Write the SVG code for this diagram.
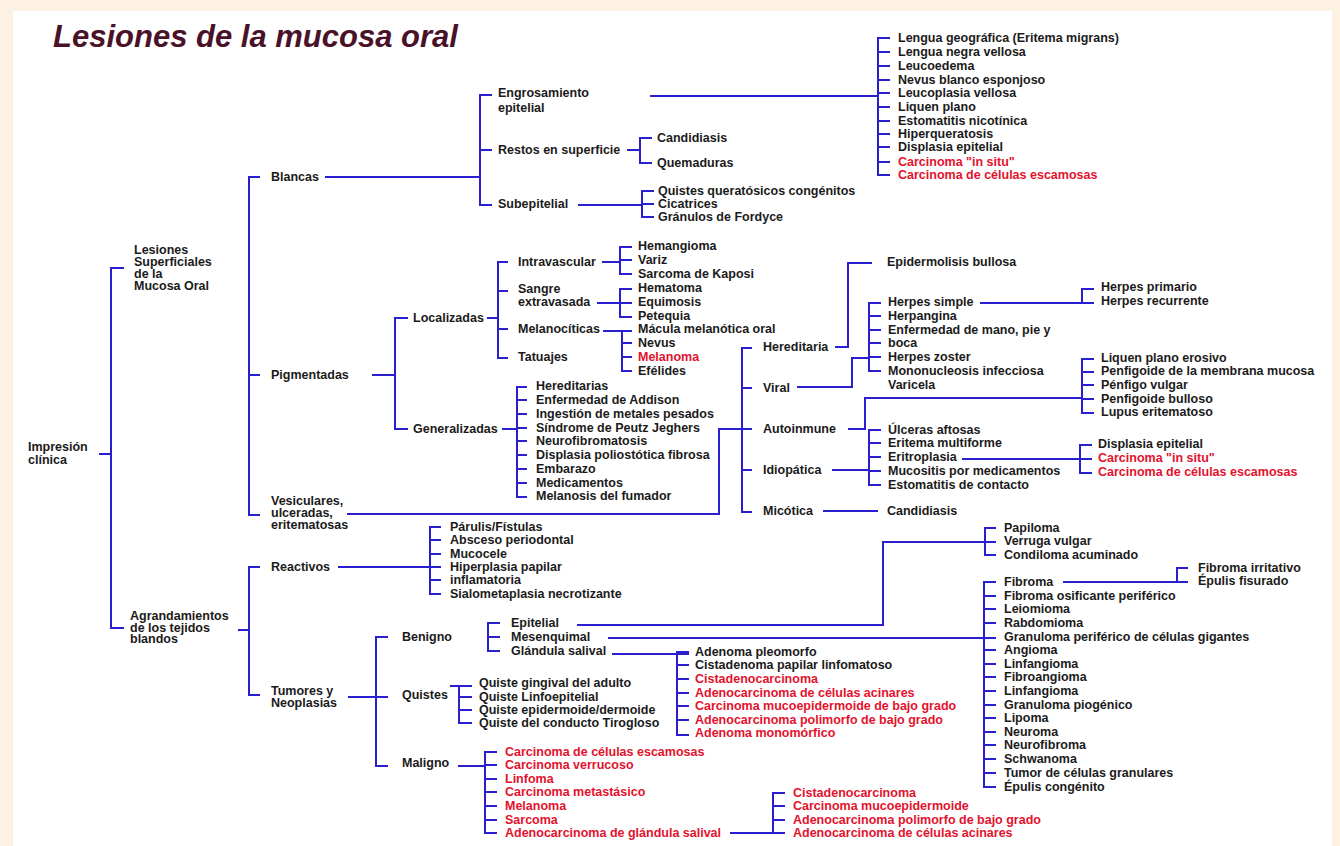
<svg xmlns="http://www.w3.org/2000/svg" width="1340" height="846" viewBox="0 0 1340 846">
<style>
.t{font-family:"Liberation Sans",Arial,sans-serif;font-weight:700;font-size:12.5px;fill:#1b1b1b;dominant-baseline:central}
.r{fill:#e3122d}
.c{fill:none;stroke:#2a1fcf;stroke-width:2}
.title{font-family:"Liberation Sans",Arial,sans-serif;font-weight:700;font-style:italic;font-size:31px;fill:#4a1228}
</style>
<rect x="0" y="0" width="1340" height="846" fill="#fdf1e4"/>
<rect x="13" y="11" width="1319" height="835" fill="#ffffff"/>
<text class="title" x="53" y="47">Lesiones de la mucosa oral</text>

<g id="connectors" class="c">
<path d="M99,454 H111 M124,268 H111 V628 H124"/>
<path d="M260,177 H249 V515 H260 M249,375 H260"/>
<path d="M238,630 H249 M260,567 H249 V695 H260"/>
<path d="M325,177 H480 M492,95 H480 V205 H492 M480,150 H492"/>
<path d="M650,96 H878 M890,38 H878 V175 H890 M878,52 H890 M878,66 H890 M878,80 H890 M878,93 H890 M878,107 H890 M878,121 H890 M878,134 H890 M878,147 H890 M878,162 H890"/>
<path d="M627,150 H640 M652,138 H640 V163 H652"/>
<path d="M578,205 H642 M654,191 H642 V217 H654 M642,204 H654"/>
<path d="M372,375 H395 M408,318 H395 V429 H408"/>
<path d="M487,318 H498 M508,262 H498 V358 H508 M498,291 H508 M498,329 H508"/>
<path d="M602,262 H620 M632,247 H620 V274 H632 M620,260 H632"/>
<path d="M597,303 H632 M632,289 H620 V317 H632"/>
<path d="M603,331 H632 M622,331 V371 H632 M622,343 H632 M622,357 H632"/>
<path d="M502,429 H517 M527,387 H517 V497 H527 M517,400 H527 M517,414 H527 M517,428 H527 M517,441 H527 M517,455 H527 M517,469 H527 M517,483 H527"/>
<path d="M347,514 H719 V429 H742 M752,348 H742 V512 H752 M742,388 H752 M742,470 H752 M742,429 H752"/>
<path d="M835,347 H848 V263 H872"/>
<path d="M797,387 H852 V358 H869 M881,303 H869 V371 H881 M869,316 H881 M869,330 H881 M869,343 H881 M869,357 H881"/>
<path d="M980,303 H1082 M1094,289 H1082 V303 H1094"/>
<path d="M848,429 H865 V398 H1082 M1094,359 H1082 V413 H1094 M1082,372 H1094 M1082,385 H1094 M1082,399 H1094"/>
<path d="M832,470 H869 M881,430 H869 V485 H881 M869,443 H881 M869,457 H881 M869,471 H881"/>
<path d="M962,459 H1092 M1092,445 H1080 V473 H1092"/>
<path d="M823,511 H878"/>
<path d="M338,567 H441 M441,527 H430 V594 H441 M430,540 H441 M430,554 H441 M430,580 H441"/>
<path d="M348,697 H388 M388,637 H376 V766 H388"/>
<path d="M450,686 H472 M459,686 V723 H472 M459,697 H472 M459,710 H472"/>
<path d="M458,766 H485 M497,752 H485 V833 H497 M485,765 H497 M485,779 H497 M485,792 H497 M485,806 H497 M485,820 H497"/>
<path d="M730,833 H785 M785,793 H773 V833 M773,806 H785 M773,820 H785"/>
<path d="M500,623 H488 V651 H500 M488,637 H500"/>
<path d="M577,625 H883 V542 H996 M996,528 H985 V555 H996"/>
<path d="M608,638 H996 M996,582 H984 V787 H996 M984,596 H996 M984,609 H996 M984,623 H996 M984,650 H996 M984,664 H996 M984,677 H996 M984,691 H996 M984,705 H996 M984,718 H996 M984,732 H996 M984,745 H996 M984,759 H996 M984,773 H996"/>
<path d="M1063,582 H1188 M1188,568 H1177 V582"/>
<path d="M612,654 H689 M689,652 H677 V735 H689 M677,665 H689 M677,679 H689 M677,693 H689 M677,706 H689 M677,720 H689"/>
</g>

<g id="n-impresion"><text class="t" x="28" y="447">Impresión<tspan x="28" dy="13">clínica</tspan></text></g>
<g id="n-lesiones"><text class="t" x="134" y="250">Lesiones<tspan x="134" dy="12">Superficiales</tspan><tspan x="134" dy="12">de la</tspan><tspan x="134" dy="12">Mucosa Oral</tspan></text></g>
<g id="n-agrandamientos"><text class="t" x="130" y="616">Agrandamientos<tspan x="130" dy="11.5">de los tejidos</tspan><tspan x="130" dy="11.5">blandos</tspan></text></g>
<g id="n-blancas"><text class="t" x="271" y="177">Blancas</text></g>
<g id="n-pigmentadas"><text class="t" x="271" y="375">Pigmentadas</text></g>
<g id="n-vesiculares"><text class="t" x="271" y="501">Vesiculares,<tspan x="271" dy="12">ulceradas,</tspan><tspan x="271" dy="12">eritematosas</tspan></text></g>
<g id="n-reactivos"><text class="t" x="271" y="567">Reactivos</text></g>
<g id="n-tumores"><text class="t" x="271" y="691">Tumores y<tspan x="271" dy="12">Neoplasias</tspan></text></g>

<g id="n-engrosamiento"><text class="t" x="498" y="93">Engrosamiento<tspan x="498" dy="15">epitelial</tspan></text></g>
<g id="n-restos"><text class="t" x="498" y="150">Restos en superficie</text></g>
<g id="n-subepitelial"><text class="t" x="498" y="204">Subepitelial</text></g>
<g id="n-candidiasis1"><text class="t" x="657" y="138">Candidiasis</text></g>
<g id="n-quemaduras"><text class="t" x="657" y="163">Quemaduras</text></g>
<g id="n-quistesq"><text class="t" x="658" y="191">Quistes queratósicos congénitos</text></g>
<g id="n-cicatrices"><text class="t" x="658" y="204">Cicatrices</text></g>
<g id="n-fordyce"><text class="t" x="658" y="217">Gránulos de Fordyce</text></g>

<g id="n-lengua-geo"><text class="t" x="898" y="38">Lengua geográfica (Eritema migrans)</text></g>
<g id="n-lengua-negra"><text class="t" x="898" y="52">Lengua negra vellosa</text></g>
<g id="n-leucoedema"><text class="t" x="898" y="66">Leucoedema</text></g>
<g id="n-nevus-blanco"><text class="t" x="898" y="80">Nevus blanco esponjoso</text></g>
<g id="n-leucoplasia"><text class="t" x="898" y="93">Leucoplasia vellosa</text></g>
<g id="n-liquen"><text class="t" x="898" y="107">Liquen plano</text></g>
<g id="n-estomatitis-nic"><text class="t" x="898" y="121">Estomatitis nicotínica</text></g>
<g id="n-hiperqueratosis"><text class="t" x="898" y="134">Hiperqueratosis</text></g>
<g id="n-displasia1"><text class="t" x="898" y="147">Displasia epitelial</text></g>
<g id="n-cis1"><text class="t r" x="898" y="162">Carcinoma "in situ"</text></g>
<g id="n-cce1"><text class="t r" x="898" y="175">Carcinoma de células escamosas</text></g>

<g id="n-localizadas"><text class="t" x="413" y="318">Localizadas</text></g>
<g id="n-generalizadas"><text class="t" x="413" y="429">Generalizadas</text></g>
<g id="n-intravascular"><text class="t" x="518" y="262">Intravascular</text></g>
<g id="n-sangre"><text class="t" x="518" y="289">Sangre<tspan x="518" dy="13">extravasada</tspan></text></g>
<g id="n-melanociticas"><text class="t" x="518" y="329">Melanocíticas</text></g>
<g id="n-tatuajes"><text class="t" x="518" y="357">Tatuajes</text></g>
<g id="n-hemangioma"><text class="t" x="638" y="246">Hemangioma</text></g>
<g id="n-variz"><text class="t" x="638" y="260">Variz</text></g>
<g id="n-kaposi"><text class="t" x="638" y="274">Sarcoma de Kaposi</text></g>
<g id="n-hematoma"><text class="t" x="638" y="288">Hematoma</text></g>
<g id="n-equimosis"><text class="t" x="638" y="302">Equimosis</text></g>
<g id="n-petequia"><text class="t" x="638" y="316">Petequia</text></g>
<g id="n-macula"><text class="t" x="638" y="329">Mácula melanótica oral</text></g>
<g id="n-nevus"><text class="t" x="638" y="343">Nevus</text></g>
<g id="n-melanoma1"><text class="t r" x="638" y="357">Melanoma</text></g>
<g id="n-efelides"><text class="t" x="638" y="371">Efélides</text></g>
<g id="n-hereditarias"><text class="t" x="536" y="386">Hereditarias</text></g>
<g id="n-addison"><text class="t" x="536" y="400">Enfermedad de Addison</text></g>
<g id="n-metales"><text class="t" x="536" y="414">Ingestión de metales pesados</text></g>
<g id="n-peutz"><text class="t" x="536" y="428">Síndrome de Peutz Jeghers</text></g>
<g id="n-neurofibromatosis"><text class="t" x="536" y="441">Neurofibromatosis</text></g>
<g id="n-displasia-polio"><text class="t" x="536" y="455">Displasia poliostótica fibrosa</text></g>
<g id="n-embarazo"><text class="t" x="536" y="469">Embarazo</text></g>
<g id="n-medicamentos"><text class="t" x="536" y="483">Medicamentos</text></g>
<g id="n-melanosis"><text class="t" x="536" y="496">Melanosis del fumador</text></g>

<g id="n-hereditaria"><text class="t" x="763" y="347">Hereditaria</text></g>
<g id="n-viral"><text class="t" x="763" y="388">Viral</text></g>
<g id="n-autoinmune"><text class="t" x="763" y="429">Autoinmune</text></g>
<g id="n-idiopatica"><text class="t" x="763" y="470">Idiopática</text></g>
<g id="n-micotica"><text class="t" x="763" y="511">Micótica</text></g>
<g id="n-epidermolisis"><text class="t" x="887" y="262">Epidermolisis bullosa</text></g>
<g id="n-herpes-simple"><text class="t" x="888" y="302">Herpes simple</text></g>
<g id="n-herpangina"><text class="t" x="888" y="316">Herpangina</text></g>
<g id="n-mano-pie"><text class="t" x="888" y="330">Enfermedad de mano, pie y<tspan x="888" dy="13">boca</tspan></text></g>
<g id="n-zoster"><text class="t" x="888" y="357">Herpes zoster</text></g>
<g id="n-mononucleosis"><text class="t" x="888" y="371">Mononucleosis infecciosa</text></g>
<g id="n-varicela"><text class="t" x="888" y="385">Varicela</text></g>
<g id="n-herpes-primario"><text class="t" x="1101" y="287">Herpes primario</text></g>
<g id="n-herpes-recurrente"><text class="t" x="1101" y="301">Herpes recurrente</text></g>
<g id="n-liquen-erosivo"><text class="t" x="1101" y="358">Liquen plano erosivo</text></g>
<g id="n-penfigoide-mm"><text class="t" x="1101" y="371">Penfigoide de la membrana mucosa</text></g>
<g id="n-penfigo"><text class="t" x="1101" y="385">Pénfigo vulgar</text></g>
<g id="n-penfigoide-b"><text class="t" x="1101" y="399">Penfigoide bulloso</text></g>
<g id="n-lupus"><text class="t" x="1101" y="412">Lupus eritematoso</text></g>
<g id="n-ulceras"><text class="t" x="888" y="430">Úlceras aftosas</text></g>
<g id="n-eritema"><text class="t" x="888" y="443">Eritema multiforme</text></g>
<g id="n-eritroplasia"><text class="t" x="888" y="457">Eritroplasia</text></g>
<g id="n-mucositis"><text class="t" x="888" y="471">Mucositis por medicamentos</text></g>
<g id="n-estomatitis-cont"><text class="t" x="888" y="485">Estomatitis de contacto</text></g>
<g id="n-displasia2"><text class="t" x="1098" y="444">Displasia epitelial</text></g>
<g id="n-cis2"><text class="t r" x="1098" y="458">Carcinoma "in situ"</text></g>
<g id="n-cce2"><text class="t r" x="1098" y="472">Carcinoma de células escamosas</text></g>
<g id="n-candidiasis2"><text class="t" x="887" y="511">Candidiasis</text></g>

<g id="n-parulis"><text class="t" x="450" y="527">Párulis/Fístulas</text></g>
<g id="n-absceso"><text class="t" x="450" y="540">Absceso periodontal</text></g>
<g id="n-mucocele"><text class="t" x="450" y="554">Mucocele</text></g>
<g id="n-hiperplasia"><text class="t" x="450" y="567">Hiperplasia papilar<tspan x="450" dy="13">inflamatoria</tspan></text></g>
<g id="n-sialometaplasia"><text class="t" x="450" y="594">Sialometaplasia necrotizante</text></g>

<g id="n-benigno"><text class="t" x="402" y="637">Benigno</text></g>
<g id="n-quistes"><text class="t" x="402" y="695">Quistes</text></g>
<g id="n-maligno"><text class="t" x="402" y="763">Maligno</text></g>
<g id="n-epitelial"><text class="t" x="511" y="623">Epitelial</text></g>
<g id="n-mesenquimal"><text class="t" x="511" y="637">Mesenquimal</text></g>
<g id="n-glandula"><text class="t" x="511" y="651">Glándula salival</text></g>
<g id="n-q-gingival"><text class="t" x="479" y="683">Quiste gingival del adulto</text></g>
<g id="n-q-linfo"><text class="t" x="479" y="697">Quiste Linfoepitelial</text></g>
<g id="n-q-epidermoide"><text class="t" x="479" y="710">Quiste epidermoide/dermoide</text></g>
<g id="n-q-tirogloso"><text class="t" x="479" y="723">Quiste del conducto Tirogloso</text></g>

<g id="n-m-cce"><text class="t r" x="505" y="752">Carcinoma de células escamosas</text></g>
<g id="n-m-verrucoso"><text class="t r" x="505" y="765">Carcinoma verrucoso</text></g>
<g id="n-m-linfoma"><text class="t r" x="505" y="779">Linfoma</text></g>
<g id="n-m-metastasico"><text class="t r" x="505" y="792">Carcinoma metastásico</text></g>
<g id="n-m-melanoma"><text class="t r" x="505" y="806">Melanoma</text></g>
<g id="n-m-sarcoma"><text class="t r" x="505" y="820">Sarcoma</text></g>
<g id="n-m-adenoglandula"><text class="t r" x="505" y="833">Adenocarcinoma de glándula salival</text></g>
<g id="n-a-cistadeno"><text class="t r" x="793" y="793">Cistadenocarcinoma</text></g>
<g id="n-a-mucoep"><text class="t r" x="793" y="806">Carcinoma mucoepidermoide</text></g>
<g id="n-a-polimorfo"><text class="t r" x="793" y="820">Adenocarcinoma polimorfo de bajo grado</text></g>
<g id="n-a-acinares"><text class="t r" x="793" y="833">Adenocarcinoma de células acinares</text></g>

<g id="n-g-pleomorfo"><text class="t" x="695" y="652">Adenoma pleomorfo</text></g>
<g id="n-g-cistadenoma"><text class="t" x="695" y="665">Cistadenoma papilar linfomatoso</text></g>
<g id="n-g-cistadenocarcinoma"><text class="t r" x="695" y="679">Cistadenocarcinoma</text></g>
<g id="n-g-acinares"><text class="t r" x="695" y="693">Adenocarcinoma de células acinares</text></g>
<g id="n-g-mucoep"><text class="t r" x="695" y="706">Carcinoma mucoepidermoide de bajo grado</text></g>
<g id="n-g-polimorfo"><text class="t r" x="695" y="720">Adenocarcinoma polimorfo de bajo grado</text></g>
<g id="n-g-monomorfico"><text class="t r" x="695" y="733">Adenoma monomórfico</text></g>

<g id="n-papiloma"><text class="t" x="1004" y="528">Papiloma</text></g>
<g id="n-verruga"><text class="t" x="1004" y="541">Verruga vulgar</text></g>
<g id="n-condiloma"><text class="t" x="1004" y="555">Condiloma acuminado</text></g>
<g id="n-fibroma"><text class="t" x="1004" y="582">Fibroma</text></g>
<g id="n-fibroma-osif"><text class="t" x="1004" y="596">Fibroma osificante periférico</text></g>
<g id="n-leiomioma"><text class="t" x="1004" y="609">Leiomioma</text></g>
<g id="n-rabdomioma"><text class="t" x="1004" y="623">Rabdomioma</text></g>
<g id="n-granuloma-cg"><text class="t" x="1004" y="637">Granuloma periférico de células gigantes</text></g>
<g id="n-angioma"><text class="t" x="1004" y="650">Angioma</text></g>
<g id="n-linfangioma1"><text class="t" x="1004" y="664">Linfangioma</text></g>
<g id="n-fibroangioma"><text class="t" x="1004" y="677">Fibroangioma</text></g>
<g id="n-linfangioma2"><text class="t" x="1004" y="691">Linfangioma</text></g>
<g id="n-granuloma-pio"><text class="t" x="1004" y="705">Granuloma piogénico</text></g>
<g id="n-lipoma"><text class="t" x="1004" y="718">Lipoma</text></g>
<g id="n-neuroma"><text class="t" x="1004" y="732">Neuroma</text></g>
<g id="n-neurofibroma"><text class="t" x="1004" y="745">Neurofibroma</text></g>
<g id="n-schwanoma"><text class="t" x="1004" y="759">Schwanoma</text></g>
<g id="n-tumor-granular"><text class="t" x="1004" y="773">Tumor de células granulares</text></g>
<g id="n-epulis-cong"><text class="t" x="1004" y="787">Épulis congénito</text></g>
<g id="n-fibroma-irr"><text class="t" x="1198" y="568">Fibroma irritativo</text></g>
<g id="n-epulis-fis"><text class="t" x="1198" y="581">Épulis fisurado</text></g>
</svg>
